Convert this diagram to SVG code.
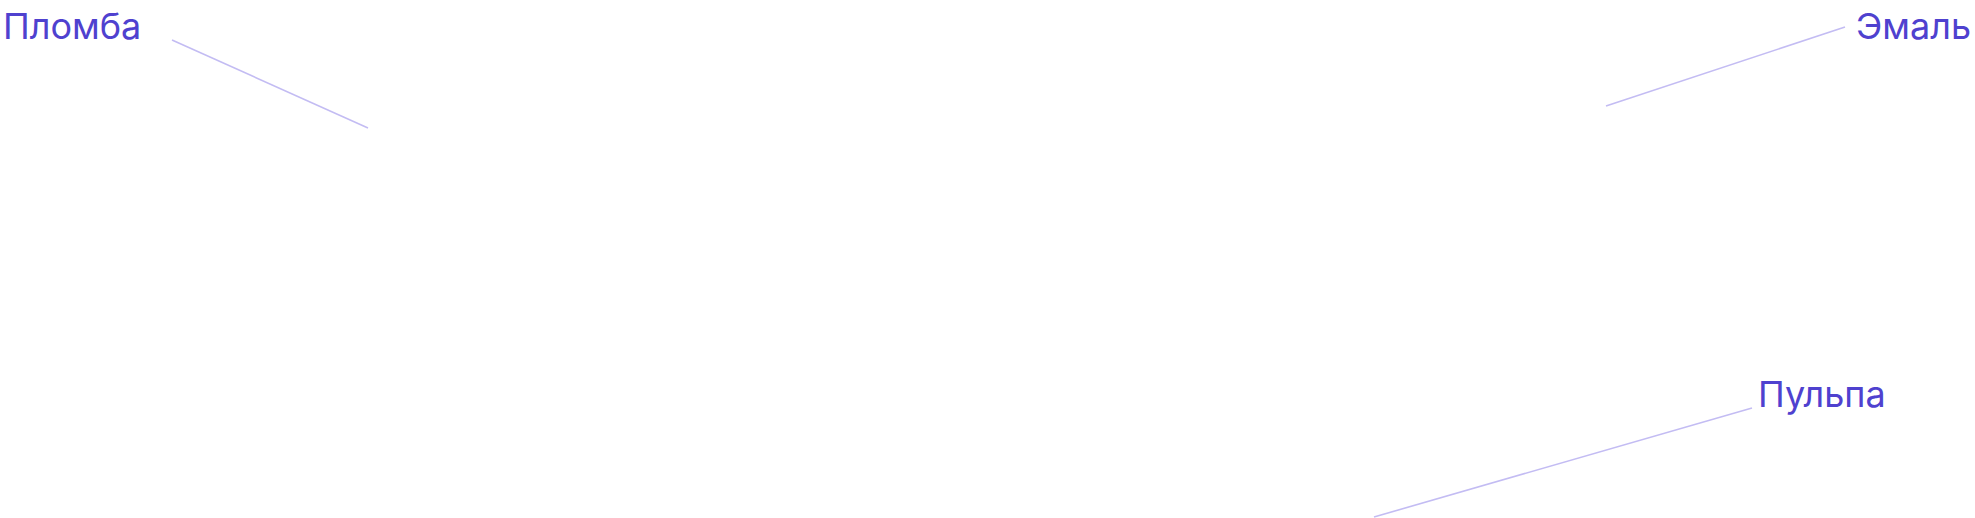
<svg xmlns="http://www.w3.org/2000/svg" width="1975" height="518" viewBox="0 0 1975 518">
<style>
.lbl{font-family:Inter,"Noto Sans",sans-serif;font-size:36px;fill:#4F41CF}
.ln{stroke:#C3BCF3;stroke-width:1.6;fill:none}
</style>
<rect width="1975" height="518" fill="#FFFFFF"/>
<g id="connectors">
<line class="ln" x1="172" y1="40" x2="368" y2="128"/>
<line class="ln" x1="1606" y1="106" x2="1845" y2="27"/>
<line class="ln" x1="1374" y1="517" x2="1752" y2="408"/>
</g>
<g id="plomba"><text class="lbl" x="3" y="39">Пломба</text></g>
<g id="emal"><text class="lbl" x="1856" y="39">Эмаль</text></g>
<g id="pulpa"><text class="lbl" x="1758" y="407">Пульпа</text></g>
</svg>
